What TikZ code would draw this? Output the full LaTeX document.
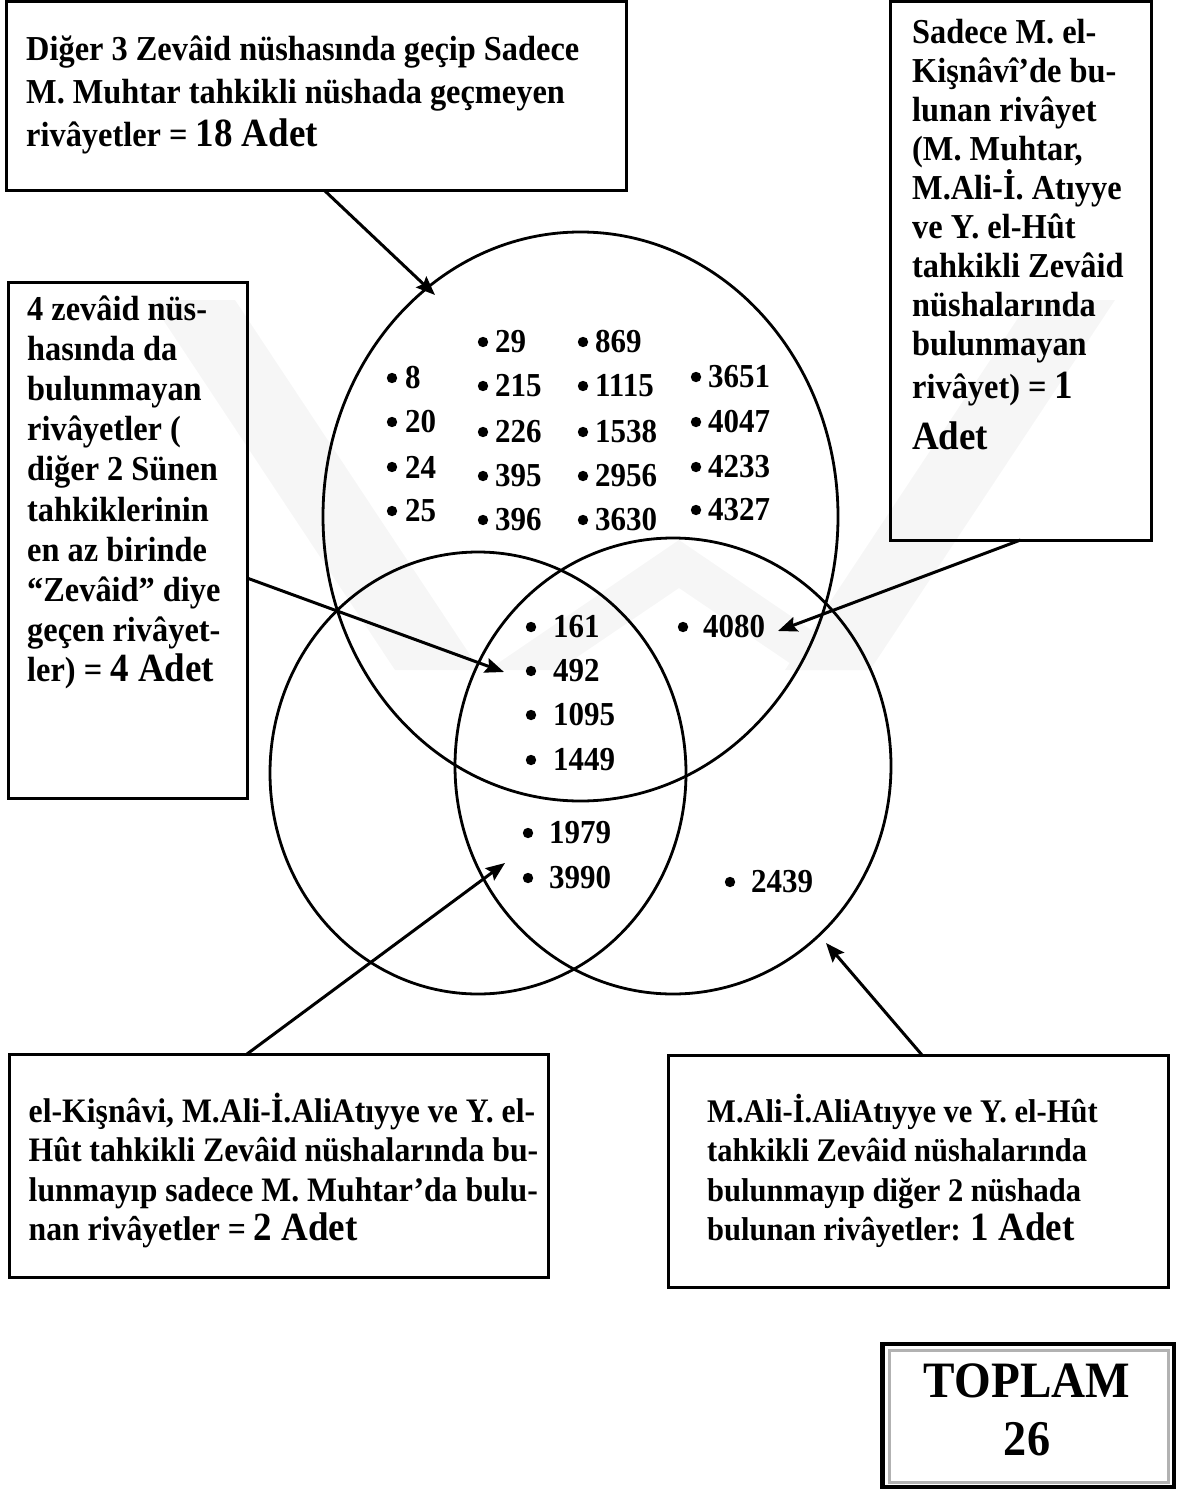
\documentclass[tikz,border=0pt]{standalone}
\usepackage{fontspec}
\setmainfont{Liberation Serif}[FakeStretch=0.925]
\usetikzlibrary{shapes.geometric,arrows.meta}
\newcommand\bigadet[1]{{\fontsize{40}{43}\selectfont #1}}
\begin{document}
\begin{tikzpicture}[x=1pt,y=-1pt,
  boxst/.style={draw, line width=3pt, anchor=north west, inner sep=0pt, outer sep=0pt},
  txt/.style={anchor=base west, inner sep=0pt, font=\fontsize{35}{40}\selectfont\bfseries},
  txtbl/.style={anchor=base west, inner sep=0pt, font=\fontsize{34.3}{40}\selectfont\bfseries},
  txtsm/.style={anchor=base west, inner sep=0pt, font=\fontsize{33}{38}\selectfont\bfseries},
  num/.style={anchor=west, inner sep=0pt, font=\fontsize{33.5}{33.5}\selectfont\bfseries},
  venn/.style={draw, ellipse, line width=2.8pt, inner sep=0pt},
  arr/.style={line width=3pt, -{Stealth[length=19pt,width=15pt,inset=3pt]}},
  wm/.style={fill=gray!7, draw=none}]
\useasboundingbox (0,0) rectangle (1176,1490);
% watermark
\fill[wm] (150,300) -- (235,300) -- (480,670) -- (395,670) -- cycle;
\fill[wm] (1030,300) -- (1115,300) -- (870,670) -- (785,670) -- cycle;
\fill[wm] (679,540) -- (870,670) -- (800,670) -- (679,588) -- (558,670) -- (488,670) -- cycle;
% boxes
\node[boxst, minimum width=620pt, minimum height=189pt] (topbox) at (6,2) {};
\node[boxst, minimum width=261pt, minimum height=538pt] (rbox) at (890,2) {};
\node[boxst, minimum width=239pt, minimum height=516pt] (lbox) at (8,282) {};
\node[boxst, minimum width=539pt, minimum height=223pt] (blbox) at (9,1054) {};
\node[boxst, minimum width=500pt, minimum height=232pt] (brbox) at (668,1055) {};
\node[boxst, line width=4.5pt, minimum width=291.5pt, minimum height=143pt] (totbox) at (882.5,1344) {};
\node[boxst, draw=gray!60, line width=3pt, minimum width=278.5pt, minimum height=132pt] (totin) at (889.5,1350) {};
% box texts
\foreach \t [count=\i] in {Diğer 3 Zevâid nüshasında geçip Sadece, M. Muhtar tahkikli nüshada geçmeyen, rivâyetler = \bigadet{18 Adet}}
  \node[txt] (tt\i) at (26,{61+43*(\i-1)}) {\t};
\foreach \t [count=\i] in {Sadece M. el-, Kişnâvî’de bu-, lunan rivâyet, {(M. Muhtar,}, M.Ali-İ. Atıyye, ve Y. el-Hût, tahkikli Zevâid, nüshalarında, bulunmayan}
  \node[txt] (rt\i) at (912,{44+38.9*(\i-1)}) {\t};
\node[txt] (rt10) at (912,398) {rivâyet) = \bigadet{1}};
\node[txt] (rt11) at (912,449) {\bigadet{Adet}};
\foreach \t [count=\i] in {4 zevâid nüs-, hasında da, bulunmayan, rivâyetler (, diğer 2 Sünen, tahkiklerinin, en az birinde, “Zevâid” diye, geçen rivâyet-, ler) = \bigadet{4 Adet}}
  \node[txt] (lt\i) at (27,{320+40.2*(\i-1)}) {\t};
\foreach \t [count=\i] in {{el-Kişnâvi, M.Ali-İ.AliAtıyye ve Y. el-}, Hût tahkikli Zevâid nüshalarında bu-, lunmayıp sadece M. Muhtar’da bulu-, nan rivâyetler = \bigadet{2 Adet}}
  \node[txtbl] (blt\i) at (28.5,{1122+39.5*(\i-1)}) {\t};
\foreach \t [count=\i] in {M.Ali-İ.AliAtıyye ve Y. el-Hût, tahkikli Zevâid nüshalarında, bulunmayıp diğer 2 nüshada, bulunan rivâyetler: \bigadet{1 Adet}}
  \node[txtsm] (brt\i) at (707,{1122+39.5*(\i-1)}) {\t};
\node[anchor=base, inner sep=0pt, font=\fontsize{51}{51}\selectfont\bfseries] (tot1) at (1027,1397) {TOPLAM};
\node[anchor=base, inner sep=0pt, font=\fontsize{50}{50}\selectfont\bfseries] (tot2) at (1027,1455) {26};
% Venn ellipses
\node[venn, minimum width=515pt, minimum height=569pt] (topE) at (580.5,516.5) {};
\node[venn, minimum width=416pt, minimum height=442pt] (leftE) at (478,773) {};
\node[venn, minimum width=436pt, minimum height=456pt] (rightE) at (673,766) {};
% numbers
\foreach \bx/\nx/\y/\n in {392/405/378/8, 392/405/422/20, 392/405/467/24, 392/405/511/25,
  483/495/342/29, 483/495/386/215, 483/495/432/226, 483/495/476/395, 483/495/520/396,
  583/595/342/869, 583/595/386/1115, 583/595/432/1538, 583/595/476/2956, 583/595/520/3630,
  696/708/377/3651, 696/708/422/4047, 696/708/467/4233, 696/708/510/4327,
  531/553/627/161, 531/553/671/492, 531/553/715/1095, 531/553/760/1449,
  683/703/627/4080, 528/549/833/1979, 528/549/878/3990, 730/751/882/2439}
{
  \fill (\bx,\y) circle[radius=5.2];
  \node[num] (n\n) at (\nx,\y) {\n};
}
% arrows
\coordinate (a1) at (435,295);
\coordinate (a2) at (504,672);
\coordinate (a3) at (778,631);
\coordinate (a4) at (505,863);
\coordinate (a5) at (826,943);
\draw[arr] ([xshift=9pt]topbox.south) -- (a1);
\draw[arr] ([yshift=-38pt]lbox.east) -- (a2);
\draw[arr] (rbox.south) -- (a3);
\draw[arr] ([xshift=-31.5pt]blbox.north) -- (a4);
\draw[arr] ([xshift=4pt]brbox.north) -- (a5);
\end{tikzpicture}
\end{document}
